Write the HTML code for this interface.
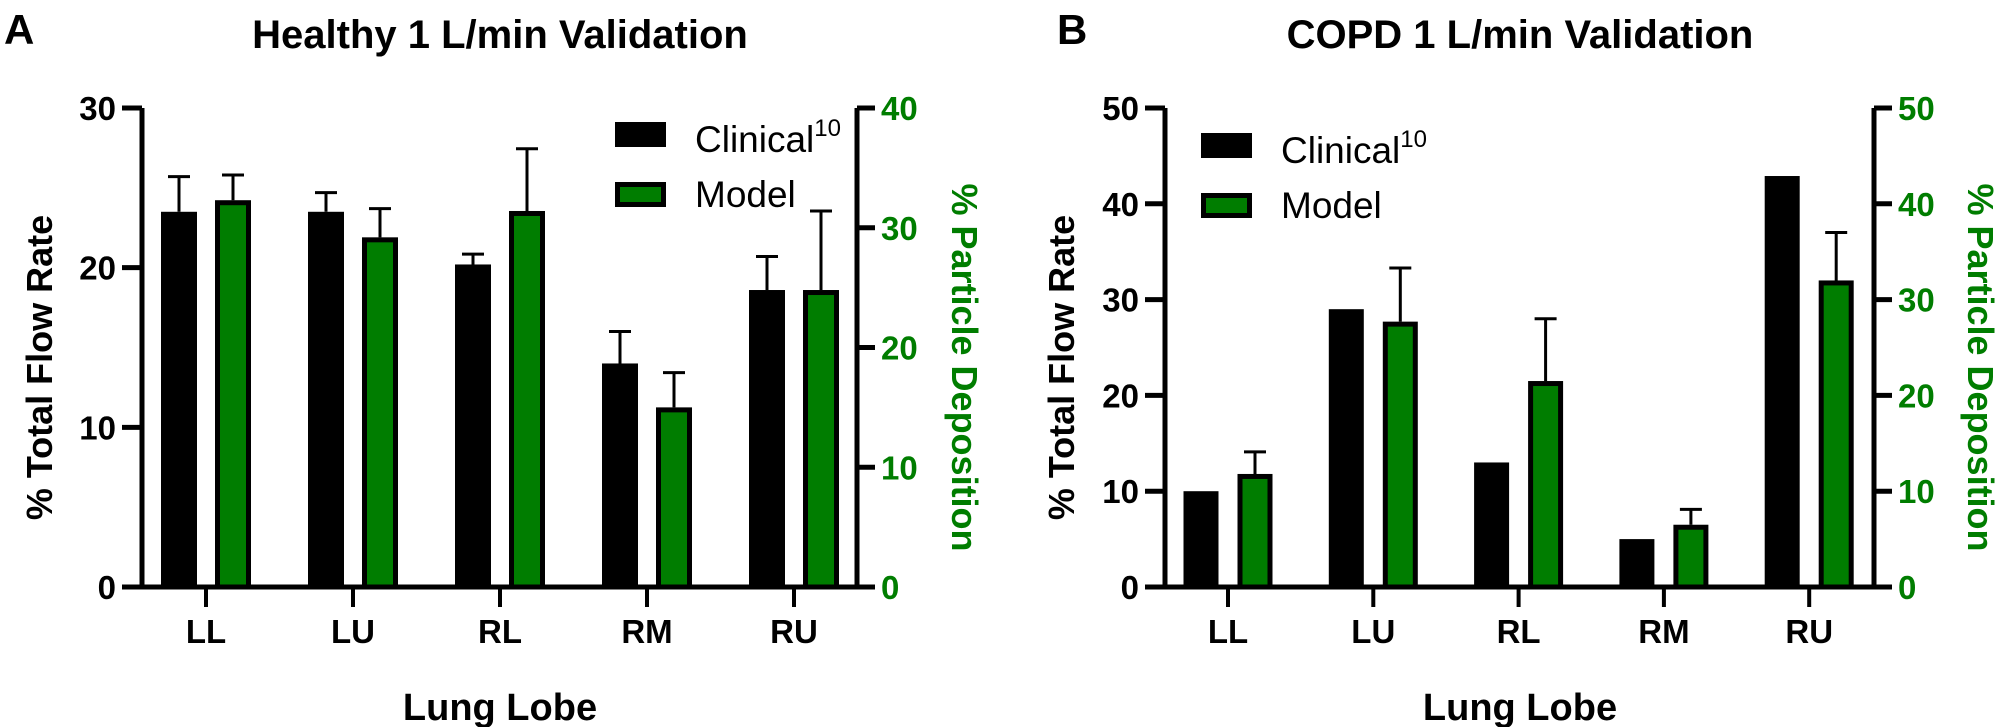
<!DOCTYPE html>
<html><head><meta charset="utf-8"><style>
html,body{margin:0;padding:0;background:#fff}
svg{display:block;font-family:"Liberation Sans",Arial,sans-serif}
</style></head><body>
<svg id="chart" width="2000" height="727" viewBox="0 0 2000 727" xmlns="http://www.w3.org/2000/svg">
<text x="4" y="44" font-size="42" font-weight="bold">A</text>
<text x="1057" y="44" font-size="42" font-weight="bold">B</text>
<g id="pa"></g>
<g id="pb"></g>
</svg>
<script>
const categories = ["LL","LU","RL","RM","RU"];
// Panel A
const aClinical = [23.5, 23.5, 20.2, 14.0, 18.6];
const aClinicalErr = [25.7, 24.7, 20.85, 16.0, 20.7];
const aModel = [32.3, 29.2, 31.4, 15.0, 24.8];
const aModelErr = [34.4, 31.6, 36.6, 17.9, 31.4];
const aLeftTicks = [0,10,20,30];
const aRightTicks = [0,10,20,30,40];
// Panel B
const bClinical = [10, 29, 13, 5, 42.9];
const bClinicalErr = [null, null, null, null, null];
const bModel = [11.8, 27.7, 21.5, 6.5, 32.0];
const bModelErr = [14.1, 33.3, 28.0, 8.1, 37.0];
const bLeftTicks = [0,10,20,30,40,50];
const bRightTicks = [0,10,20,30,40,50];

const NS="http://www.w3.org/2000/svg";
function mk(parent, tag, attrs, text){
  const e=document.createElementNS(NS,tag);
  for(const k in attrs) e.setAttribute(k, attrs[k]);
  if(text!==undefined) e.textContent=text;
  parent.appendChild(e); return e;
}
const GREEN="#007d00";

function panel(g, cfg){
  const y0=587, yTop=108;
  const yL = v => y0 - v/cfg.leftMax*(y0-yTop);
  const yR = v => y0 - v/cfg.rightMax*(y0-yTop);
  const xc = i => cfg.firstCenter + i*cfg.step;
  const bw = cfg.bw, off = cfg.off;
  // title
  let t=mk(g,'text',{x:cfg.center,y:48,'font-size':40,'font-weight':'bold','text-anchor':'middle'},cfg.title);
   
  // bars
  categories.forEach((c,i)=>{
    const cx=xc(i);
    const yc=yL(cfg.clin[i]);
    let r=mk(g,'rect',{x:cx-off-bw/2,y:yc,width:bw,height:y0-yc,fill:'#000'});
    
    
    if(cfg.clinErr[i]!=null){
      const ye=yL(cfg.clinErr[i]);
      let l=mk(g,'path',{d:`M${cx-off} ${yc} V${ye} M${cx-off-11} ${ye} H${cx-off+11}`,stroke:'#000','stroke-width':3,fill:'none'});
      
      
    }
    const ym=yR(cfg.model[i]);
    if(cfg.modelErr[i]!=null){
      const ye=yR(cfg.modelErr[i]);
      let l=mk(g,'path',{d:`M${cx+off} ${ym} V${ye} M${cx+off-11} ${ye} H${cx+off+11}`,stroke:'#000','stroke-width':3,fill:'none'});
      
      
    }
    let m=mk(g,'rect',{x:cx+off-bw/2+2.5,y:ym+2.5,width:bw-5,height:y0-ym-2.5,fill:GREEN,stroke:'#000','stroke-width':5});
    
    
    // x tick + label
    let tk=mk(g,'line',{x1:cx,y1:y0,x2:cx,y2:y0+20,stroke:'#000','stroke-width':4});
     
    let tl=mk(g,'text',{x:cx,y:643,'font-size':33,'font-weight':'bold','text-anchor':'middle'},c);
     
  });
  // axes
  let ax=mk(g,'path',{d:`M${cfg.xl} ${yTop} V${y0} M${cfg.xl-20} ${y0} H${cfg.xr+18} M${cfg.xr} ${y0} V${yTop}`,stroke:'#000','stroke-width':5,fill:'none'});
   
  cfg.lt.forEach(v=>{
    const y=yL(v);
    mk(g,'line',{x1:cfg.xl-20,y1:y,x2:cfg.xl,y2:y,stroke:'#000','stroke-width':5});
    let e=mk(g,'text',{x:cfg.xl-26,y:y+12,'font-size':33,'font-weight':'bold','text-anchor':'end'},v);
     
  });
  cfg.rt.forEach(v=>{
    const y=yR(v);
    mk(g,'line',{x1:cfg.xr,y1:y,x2:cfg.xr+18,y2:y,stroke:'#000','stroke-width':5});
    let e=mk(g,'text',{x:cfg.xr+24,y:y+12,'font-size':33,'font-weight':'bold',fill:GREEN},v);
     
  });
  // axis titles
  let lt=mk(g,'text',{x:0,y:0,'font-size':36,'font-weight':'bold','text-anchor':'middle',transform:`translate(${cfg.ltx},${(y0+yTop)/2+20}) rotate(-90)`},'% Total Flow Rate');
   
  let rt=mk(g,'text',{x:0,y:0,'font-size':36,'font-weight':'bold','text-anchor':'middle',fill:GREEN,transform:`translate(${cfg.rtx},${(y0+yTop)/2+20}) rotate(90)`},'% Particle Deposition');
   
  let xt=mk(g,'text',{x:cfg.center,y:720,'font-size':38,'font-weight':'bold','text-anchor':'middle'},'Lung Lobe');
   
  // legend
  const L=cfg.leg;
  let s1=mk(g,'rect',{x:L.x,y:L.y,width:51,height:25,fill:'#000'});
   
  let t1=mk(g,'text',{x:L.x+80,y:L.y+30,'font-size':37},'Clinical');
   
  mk(t1,'tspan',{dy:-16,'font-size':24},'10');
  let s2=mk(g,'rect',{x:L.x+2.5,y:L.y+62.5,width:46,height:20,fill:GREEN,stroke:'#000','stroke-width':5});
   
  let t2=mk(g,'text',{x:L.x+80,y:L.y+85,'font-size':37},'Model');
   
}

panel(document.getElementById('pa'),{
  title:'Healthy 1 L/min Validation', center:500, leftMax:30, rightMax:40,
  clin:aClinical, clinErr:aClinicalErr, model:aModel, modelErr:aModelErr,
  lt:aLeftTicks, rt:aRightTicks, firstCenter:206, step:147, bw:36, off:27,
  xl:142, xr:857, ltx:52, rtx:952, leg:{x:615,y:122}
});
panel(document.getElementById('pb'),{
  title:'COPD 1 L/min Validation', center:1520, leftMax:50, rightMax:50,
  clin:bClinical, clinErr:bClinicalErr, model:bModel, modelErr:bModelErr,
  lt:bLeftTicks, rt:bRightTicks, firstCenter:1228, step:145.3, bw:35, off:27,
  xl:1165, xr:1874, ltx:1074, rtx:1968, leg:{x:1201,y:133}
});
</script>
</body></html>
